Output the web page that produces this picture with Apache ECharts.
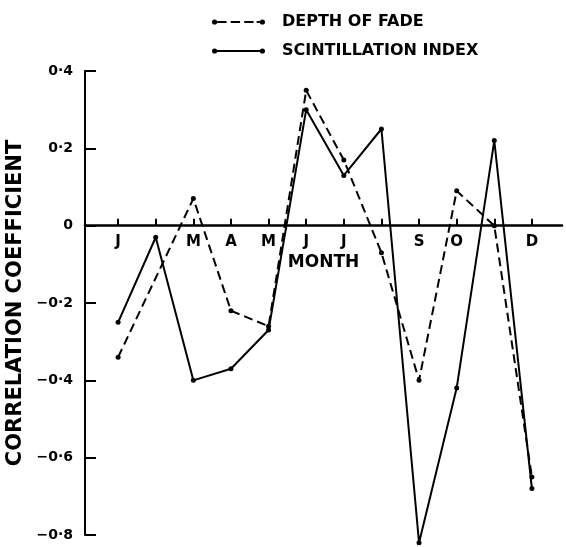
<!DOCTYPE html>
<html>
<head>
<meta charset="utf-8">
<script src="https://cdn.jsdelivr.net/npm/echarts@6/dist/echarts.min.js"></script>
<style>html,body{margin:0;padding:0;background:#fff;}#c{width:566px;height:547px;}</style>
</head>
<body>
<div id="c"></div>
<script>
const monthNames = ['J','F','M','A','M','J','J','A','S','O','N','D'];
const tickLabels = ['J','','M','A','M','J','J','','S','O','','D'];
const monthPos = [1,2,3,4,5,6,7,8,9,10,11,12];
const depthOfFade = [-0.34, null, 0.07, -0.22, -0.26, 0.35, 0.17, -0.07, -0.40, 0.09, 0.00, -0.65];
const scintIndex = [-0.25, -0.03, -0.40, -0.37, -0.27, 0.30, 0.13, 0.25, -0.82, -0.42, 0.22, -0.68];
const yMin = -0.8, yMax = 0.4, yStep = 0.2;

function pairs(vals){ return monthPos.map((m,i)=>[m, vals[i]]); }
function fmtY(v){
  if (Math.abs(v) < 1e-9) return '0';
  return (v < 0 ? '\u2212' : '') + Math.abs(v).toFixed(1).replace('.', '\u00B7');
}

const dashedIcon = 'path://M1,3.5A2.5,2.5 0 1,1 6,3.5A2.5,2.5 0 1,1 1,3.5Z M6,2.6H15V4.4H6Z M19,2.6H28V4.4H19Z M32,2.6H41V4.4H32Z M44,2.6H47V4.4H44Z M47,3.5A2.5,2.5 0 1,1 52,3.5A2.5,2.5 0 1,1 47,3.5Z';
const solidIcon = 'path://M1,3.5A2.5,2.5 0 1,1 6,3.5A2.5,2.5 0 1,1 1,3.5Z M5,2.6H48V4.4H5Z M47,3.5A2.5,2.5 0 1,1 52,3.5A2.5,2.5 0 1,1 47,3.5Z';

const W = 566, H = 547;
const grid = {left: 85, right: 4, top: 71, bottom: 12};
const plotH = H - grid.top - grid.bottom;
// pixel offset that moves the month axis from the bottom of the grid up to y = 0
const zeroOffset = -plotH * (0 - yMin) / (yMax - yMin);

const chart = echarts.init(document.getElementById('c'), null, {renderer:'canvas'});
const font = 'DejaVu Sans';
chart.setOption({
  animation: false,
  backgroundColor: '#fff',
  grid: Object.assign({outerBoundsMode: 'none', containLabel: false}, grid),
  legend: {
    orient: 'vertical', left: 207, top: 9, itemGap: 13,
    itemWidth: 53, itemHeight: 8,
    textStyle: {fontFamily: font, fontWeight: 'bold', fontSize: 16, color: '#000', lineHeight: 16, padding: [0,0,0,12]},
    itemStyle: {borderWidth: 0},
    data: [
      {name: 'DEPTH OF FADE', icon: dashedIcon},
      {name: 'SCINTILLATION INDEX', icon: solidIcon}
    ]
  },
  xAxis: {
    type: 'value', min: 0.12, max: 12.8, position: 'bottom', offset: zeroOffset,
    name: 'MONTH', nameLocation: 'middle', nameGap: 27,
    nameTextStyle: {fontFamily: font, fontWeight: 'bold', fontSize: 17, color: '#000'},
    axisLine: {onZero: false, lineStyle: {color: '#000', width: 2.5}},
    axisTick: {inside: true, length: 7, lineStyle: {color: '#000', width: 2}, customValues: monthPos},
    axisLabel: {customValues: monthPos, margin: 9, fontFamily: font, fontWeight: 'bold', fontSize: 15, color: '#000',
      formatter: v => tickLabels[Math.round(v) - 1] || ''},
    splitLine: {show: false}
  },
  yAxis: {
    type: 'value', min: yMin, max: yMax, interval: yStep,
    name: 'CORRELATION COEFFICIENT', nameLocation: 'middle', nameGap: 58, nameRotate: 90,
    nameTextStyle: {fontFamily: font, fontWeight: 'bold', fontSize: 21, color: '#000'},
    axisLine: {show: true, onZero: false, lineStyle: {color: '#000', width: 2}},
    axisTick: {show: true, inside: true, length: 11, lineStyle: {color: '#000', width: 2}},
    axisLabel: {margin: 12, fontFamily: font, fontWeight: 'bold', fontSize: 14, color: '#000', formatter: fmtY},
    splitLine: {show: false}
  },
  series: [
    {
      name: 'DEPTH OF FADE', type: 'line', data: pairs(depthOfFade), connectNulls: true, clip: false,
      symbol: 'circle', symbolSize: 5, itemStyle: {color: '#000'},
      lineStyle: {color: '#000', width: 2, type: [9, 5]}
    },
    {
      name: 'SCINTILLATION INDEX', type: 'line', data: pairs(scintIndex), clip: false,
      symbol: 'circle', symbolSize: 5, itemStyle: {color: '#000'},
      lineStyle: {color: '#000', width: 2, type: 'solid'}
    }
  ]
});
</script>
</body>
</html>
